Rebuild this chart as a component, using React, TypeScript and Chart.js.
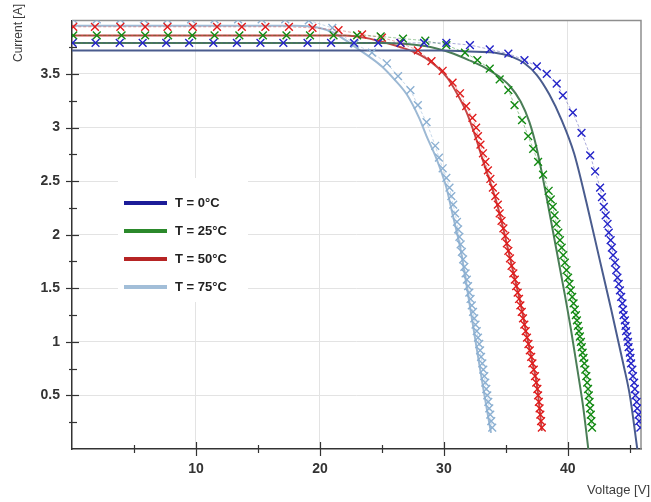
import React, { useEffect, useRef } from "react";
import { Chart, registerables } from "chart.js";
Chart.register(...registerables);

// ---- text ----
const seriesLabels = ["T = 0°C", "T = 25°C", "T = 50°C", "T = 75°C"];
const xTickLabels = ["10", "20", "30", "40"];
const yTickLabels = ["0.5", "1", "1.5", "2", "2.5", "3", "3.5"];
const xMinorTicks = [5, 15, 25, 35, 45];
const yMinorTicks = [0.25, 0.75, 1.25, 1.75, 2.25, 2.75, 3.25, 3.75];
const xTitle = "Voltage [V]";
const yTitle = "Current [A]";

// ---- model curves [V, A] ----
const model0C: [number, number][] = [
  [0, 3.72], [10, 3.72], [20, 3.72], [30, 3.72], [32, 3.71], [34, 3.7], [35.5, 3.66], [36.5, 3.6],
  [37.5, 3.49], [38.5, 3.31], [39.5, 3.07], [40.5, 2.76], [41.5, 2.3], [42.5, 1.8], [43.5, 1.3],
  [44.5, 0.78], [45.0, 0.5], [45.6, 0.0],
];
const model25C: [number, number][] = [
  [0, 3.79], [20, 3.79], [25, 3.79], [27, 3.78], [29, 3.75], [30.5, 3.7], [32, 3.63], [33.3, 3.56],
  [34.4, 3.48], [35.3, 3.39], [36.2, 3.24], [36.9, 3.05], [37.5, 2.8], [38.2, 2.4], [38.8, 2.03],
  [39.5, 1.6], [40.2, 1.15], [40.8, 0.72], [41.25, 0.38], [41.65, 0.0],
];
const model50C: [number, number][] = [
  [0, 3.86], [20, 3.86], [22, 3.86], [24, 3.83], [25, 3.8], [26.5, 3.75], [27.5, 3.71], [28.5, 3.65],
  [29.5, 3.56], [30.3, 3.46], [31.0, 3.33], [31.8, 3.15], [32.5, 2.93], [33.1, 2.71], [33.7, 2.5],
  [34.3, 2.28], [34.8, 2.05], [35.2, 1.85], [35.6, 1.65], [36.2, 1.35], [36.7, 1.05], [37.1, 0.83],
  [37.5, 0.6], [37.9, 0.17],
];
const model75C: [number, number][] = [
  [0, 3.95], [10, 3.95], [18, 3.95], [20, 3.93], [21, 3.89], [22, 3.82], [23, 3.74], [24, 3.66],
  [25, 3.57], [26, 3.45], [27, 3.31], [28, 3.09], [28.6, 2.92], [29.4, 2.71], [30.2, 2.44],
  [30.7, 2.19], [31.3, 1.89], [31.7, 1.62], [32.2, 1.26], [32.7, 0.9], [33.2, 0.55], [33.8, 0.15],
];

// ---- measured points [V, A] ----
const measured0C: [number, number][] = [
  [0.05, 3.79], [1.9, 3.79], [3.85, 3.79], [5.7, 3.79], [7.6, 3.79], [9.45, 3.79], [11.4, 3.79],
  [13.3, 3.79], [15.2, 3.79], [17.05, 3.79], [19.0, 3.79], [20.9, 3.79], [22.75, 3.79], [24.7, 3.79],
  [26.5, 3.79], [28.4, 3.79], [30.2, 3.79], [32.1, 3.77], [33.7, 3.73], [35.2, 3.69], [36.5, 3.63],
  [37.5, 3.57], [38.3, 3.5], [39.1, 3.41], [39.6, 3.3], [40.4, 3.14], [41.1, 2.95], [41.8, 2.74],
  [42.2, 2.59], [42.6, 2.44], [42.75, 2.35], [42.9, 2.26], [43.05, 2.18], [43.2, 2.1], [43.3, 2.02],
  [43.45, 1.95], [43.55, 1.88], [43.65, 1.81], [43.8, 1.74], [43.9, 1.67], [44.0, 1.6], [44.1, 1.54],
  [44.2, 1.48], [44.3, 1.42], [44.4, 1.36], [44.45, 1.3], [44.5, 1.25], [44.6, 1.2], [44.65, 1.15],
  [44.7, 1.1], [44.8, 1.05], [44.85, 1.0], [44.9, 0.95], [45.0, 0.9], [45.05, 0.85], [45.1, 0.8],
  [45.2, 0.74], [45.25, 0.68], [45.35, 0.62], [45.4, 0.56], [45.45, 0.5], [45.55, 0.44], [45.6, 0.38],
  [45.7, 0.32], [45.75, 0.26], [45.85, 0.2],
];
const measured25C: [number, number][] = [
  [0.1, 3.86], [2.0, 3.86], [4.0, 3.86], [5.9, 3.86], [7.75, 3.86], [9.7, 3.86], [11.5, 3.86],
  [13.5, 3.86], [15.4, 3.86], [17.3, 3.86], [19.2, 3.86], [21.1, 3.86], [23.0, 3.86], [24.9, 3.85],
  [26.7, 3.83], [28.5, 3.81], [30.2, 3.77], [31.7, 3.7], [32.7, 3.63], [33.7, 3.55], [34.5, 3.45],
  [35.2, 3.35], [35.7, 3.21], [36.3, 3.07], [36.8, 2.92], [37.2, 2.8], [37.6, 2.68], [38.0, 2.56],
  [38.45, 2.41], [38.62, 2.33], [38.78, 2.26], [38.93, 2.18], [39.08, 2.1], [39.23, 2.02],
  [39.36, 1.95], [39.5, 1.88], [39.63, 1.81], [39.76, 1.74], [39.89, 1.67], [40.02, 1.6],
  [40.13, 1.54], [40.24, 1.48], [40.35, 1.42], [40.46, 1.36], [40.56, 1.3], [40.65, 1.25],
  [40.73, 1.2], [40.81, 1.15], [40.89, 1.1], [40.97, 1.05], [41.05, 1.0], [41.12, 0.95],
  [41.19, 0.9], [41.26, 0.85], [41.33, 0.8], [41.41, 0.74], [41.49, 0.68], [41.56, 0.62],
  [41.63, 0.56], [41.69, 0.5], [41.75, 0.44], [41.8, 0.38], [41.85, 0.32], [41.9, 0.26], [41.95, 0.2],
];
const measured50C: [number, number][] = [
  [0.1, 3.94], [1.85, 3.94], [3.9, 3.94], [5.9, 3.94], [7.7, 3.94], [9.75, 3.94], [11.7, 3.94],
  [13.7, 3.94], [15.6, 3.94], [17.5, 3.94], [19.4, 3.93], [21.5, 3.91], [23.4, 3.87], [25.0, 3.84],
  [26.5, 3.79], [27.9, 3.72], [29.0, 3.62], [29.9, 3.53], [30.7, 3.42], [31.3, 3.32], [31.8, 3.2],
  [32.3, 3.09], [32.6, 3.0], [32.75, 2.92], [32.95, 2.84], [33.15, 2.76], [33.35, 2.68], [33.55, 2.6],
  [33.75, 2.52], [33.95, 2.44], [34.15, 2.36], [34.35, 2.28], [34.5, 2.2], [34.65, 2.13], [34.8, 2.06],
  [34.95, 1.99], [35.08, 1.92], [35.2, 1.85], [35.33, 1.78], [35.46, 1.71], [35.6, 1.64],
  [35.72, 1.58], [35.83, 1.52], [35.95, 1.46], [36.06, 1.4], [36.17, 1.34], [36.28, 1.28],
  [36.38, 1.22], [36.49, 1.16], [36.6, 1.1], [36.7, 1.04], [36.82, 0.98], [36.93, 0.92],
  [37.04, 0.86], [37.14, 0.8], [37.25, 0.74], [37.35, 0.68], [37.45, 0.62], [37.54, 0.56],
  [37.6, 0.5], [37.66, 0.44], [37.72, 0.38], [37.78, 0.32], [37.84, 0.26], [37.9, 0.2],
];
const measured75C: [number, number][] = [
  [0.1, 4.01], [2.0, 4.01], [3.9, 4.01], [5.8, 4.01], [7.7, 4.01], [9.6, 4.01], [11.5, 4.01],
  [13.4, 4.01], [15.3, 4.01], [17.2, 4.01], [19.1, 4.0], [21.0, 3.93], [22.8, 3.78], [24.2, 3.7],
  [25.4, 3.6], [26.3, 3.48], [27.3, 3.35], [27.9, 3.21], [28.6, 3.05], [29.3, 2.83], [29.6, 2.72],
  [29.9, 2.62], [30.2, 2.53], [30.45, 2.44], [30.6, 2.36], [30.75, 2.28], [30.9, 2.2], [31.05, 2.12],
  [31.15, 2.05], [31.25, 1.98], [31.35, 1.91], [31.45, 1.84], [31.55, 1.77], [31.65, 1.7],
  [31.75, 1.64], [31.85, 1.58], [31.95, 1.52], [32.05, 1.46], [32.15, 1.4], [32.25, 1.34],
  [32.35, 1.28], [32.45, 1.22], [32.55, 1.16], [32.65, 1.1], [32.75, 1.04], [32.85, 0.98],
  [32.92, 0.92], [33.0, 0.86], [33.1, 0.8], [33.18, 0.74], [33.26, 0.68], [33.34, 0.62],
  [33.42, 0.56], [33.5, 0.5], [33.58, 0.44], [33.66, 0.38], [33.74, 0.32], [33.82, 0.26], [33.9, 0.2],
];

const FONT = "'Liberation Sans', Arial, Helvetica, sans-serif";

export default function App() {
  const ref = useRef<HTMLCanvasElement>(null);

  useEffect(() => {
    document.body.style.margin = "0";
    const canvas = ref.current;
    if (!canvas) return;

    const xMajor = xTickLabels.map(Number);
    const yMajor = yTickLabels.map(Number);
    const toPts = (arr: [number, number][]) => arr.map(([x, y]) => ({ x, y }));

    const models = [model0C, model25C, model50C, model75C];
    const measured = [measured0C, measured25C, measured50C, measured75C];
    const fitColors = ["#4a5c8e", "#4b7e57", "#c64646", "#9db9d4"];
    const markColors = ["#2424c8", "#138a13", "#e01c1c", "#8cb0d2"];
    const dashColors = ["rgba(60,60,170,0.55)", "rgba(30,130,30,0.55)", "rgba(210,60,60,0.55)", "rgba(140,175,210,0.6)"];
    const legendColors = ["#1c1c98", "#2b892b", "#b62424", "#a2bed8"];

    const markerSets = measured.map((m, i) => ({
      label: seriesLabels[i] + " measured",
      data: toPts(m),
      showLine: true,
      borderColor: dashColors[i],
      borderWidth: 0.8,
      borderDash: [3, 2],
      pointStyle: "crossRot" as const,
      pointRadius: 5.5,
      pointBorderWidth: 1.4,
      pointBorderColor: markColors[i],
      pointBackgroundColor: "rgba(0,0,0,0)",
    }));
    const modelSets = models.map((m, i) => ({
      label: seriesLabels[i],
      data: toPts(m),
      showLine: true,
      borderColor: fitColors[i],
      borderWidth: 2,
      pointRadius: 0,
      cubicInterpolationMode: "monotone" as const,
    }));

    const decor = {
      id: "decor",
      beforeDatasetsDraw(chart: any) {
        const { ctx, chartArea: a } = chart;
        ctx.save();
        ctx.strokeStyle = "#8e8e8e";
        ctx.lineWidth = 1.5;
        ctx.beginPath();
        ctx.moveTo(a.left, a.top);
        ctx.lineTo(a.right, a.top);
        ctx.lineTo(a.right, a.bottom);
        ctx.stroke();
        ctx.restore();
      },
      afterDraw(chart: any) {
        const { ctx, chartArea: a, scales } = chart;
        const xs = scales.x;
        const ys = scales.y;
        ctx.save();
        ctx.strokeStyle = "#333";
        ctx.lineWidth = 1.2;
        ys.ticks.forEach((t: any) => {
          const y = Math.round(ys.getPixelForValue(t.value)) + 0.5;
          const major = yMajor.includes(t.value);
          ctx.beginPath();
          ctx.moveTo(a.left - (major ? 6 : 3), y);
          ctx.lineTo(a.left + (major ? 7 : 5), y);
          ctx.stroke();
        });
        xs.ticks.forEach((t: any) => {
          const x = Math.round(xs.getPixelForValue(t.value)) + 0.5;
          const major = xMajor.includes(t.value);
          ctx.beginPath();
          ctx.moveTo(x, a.bottom - (major ? 7 : 4));
          ctx.lineTo(x, a.bottom + (major ? 7 : 4));
          ctx.stroke();
        });

        // axis titles
        ctx.fillStyle = "#3c3c3c";
        ctx.font = `13px ${FONT}`;
        ctx.textAlign = "right";
        ctx.textBaseline = "middle";
        ctx.fillText(xTitle, 650, 490);
        ctx.save();
        ctx.translate(19, 4);
        ctx.rotate(-Math.PI / 2);
        ctx.font = `12px ${FONT}`;
        ctx.fillText(yTitle, 0, 0);
        ctx.restore();

        // legend
        const lx = 118, ly = 178, lw = 130, lh = 124;
        ctx.fillStyle = "#ffffff";
        ctx.fillRect(lx, ly, lw, lh);
        ctx.font = `bold 13px ${FONT}`;
        ctx.textAlign = "left";
        seriesLabels.forEach((lab, i) => {
          const y = 203 + i * 28;
          ctx.strokeStyle = legendColors[i];
          ctx.lineWidth = 4;
          ctx.beginPath();
          ctx.moveTo(124, y);
          ctx.lineTo(167, y);
          ctx.stroke();
          ctx.fillStyle = "#222";
          ctx.fillText(lab, 175, y);
        });
        ctx.restore();
      },
    };

    const chart = new Chart(canvas, {
      type: "scatter",
      data: { datasets: [...markerSets, ...modelSets] as any },
      options: {
        responsive: false,
        animation: false,
        layout: { padding: { top: 7, right: 10, left: 0, bottom: 0 } },
        plugins: { legend: { display: false }, tooltip: { enabled: false } },
        scales: {
          x: {
            type: "linear",
            min: 0,
            max: 45.9,
            afterFit: (s: any) => { s.height = 53; },
            afterBuildTicks: (s: any) => {
              s.ticks = [...xMajor, ...xMinorTicks].sort((p, q) => p - q).map((v) => ({ value: v }));
            },
            ticks: {
              autoSkip: false,
              maxRotation: 0,
              padding: 12,
              color: "#333",
              font: { family: FONT, size: 14, weight: "bold" },
              callback: (v: any) => (xTickLabels.includes(String(v)) ? String(v) : ""),
            },
            grid: {
              drawTicks: false,
              lineWidth: 1,
              color: (c: any) => (c.tick && xMajor.includes(c.tick.value) ? "#e3e3e3" : "rgba(0,0,0,0)"),
            },
            border: { color: "#333", width: 1.5 },
          },
          y: {
            type: "linear",
            min: 0,
            max: 4,
            afterFit: (s: any) => { s.width = 72; },
            afterBuildTicks: (s: any) => {
              s.ticks = [...yMajor, ...yMinorTicks].sort((p, q) => p - q).map((v) => ({ value: v }));
            },
            ticks: {
              autoSkip: false,
              padding: 12,
              color: "#333",
              font: { family: FONT, size: 14, weight: "bold" },
              callback: (v: any) => (yTickLabels.includes(String(v)) ? String(v) : ""),
            },
            grid: {
              drawTicks: false,
              lineWidth: 1,
              color: (c: any) => (c.tick && yMajor.includes(c.tick.value) ? "#e3e3e3" : "rgba(0,0,0,0)"),
            },
            border: { color: "#333", width: 1.5 },
          },
        },
      },
      plugins: [decor],
    });
    return () => chart.destroy();
  }, []);

  return (
    <div style={{ width: 651, height: 502, background: "#fff" }}>
      <canvas ref={ref} width={651} height={502} style={{ display: "block" }} />
    </div>
  );
}
